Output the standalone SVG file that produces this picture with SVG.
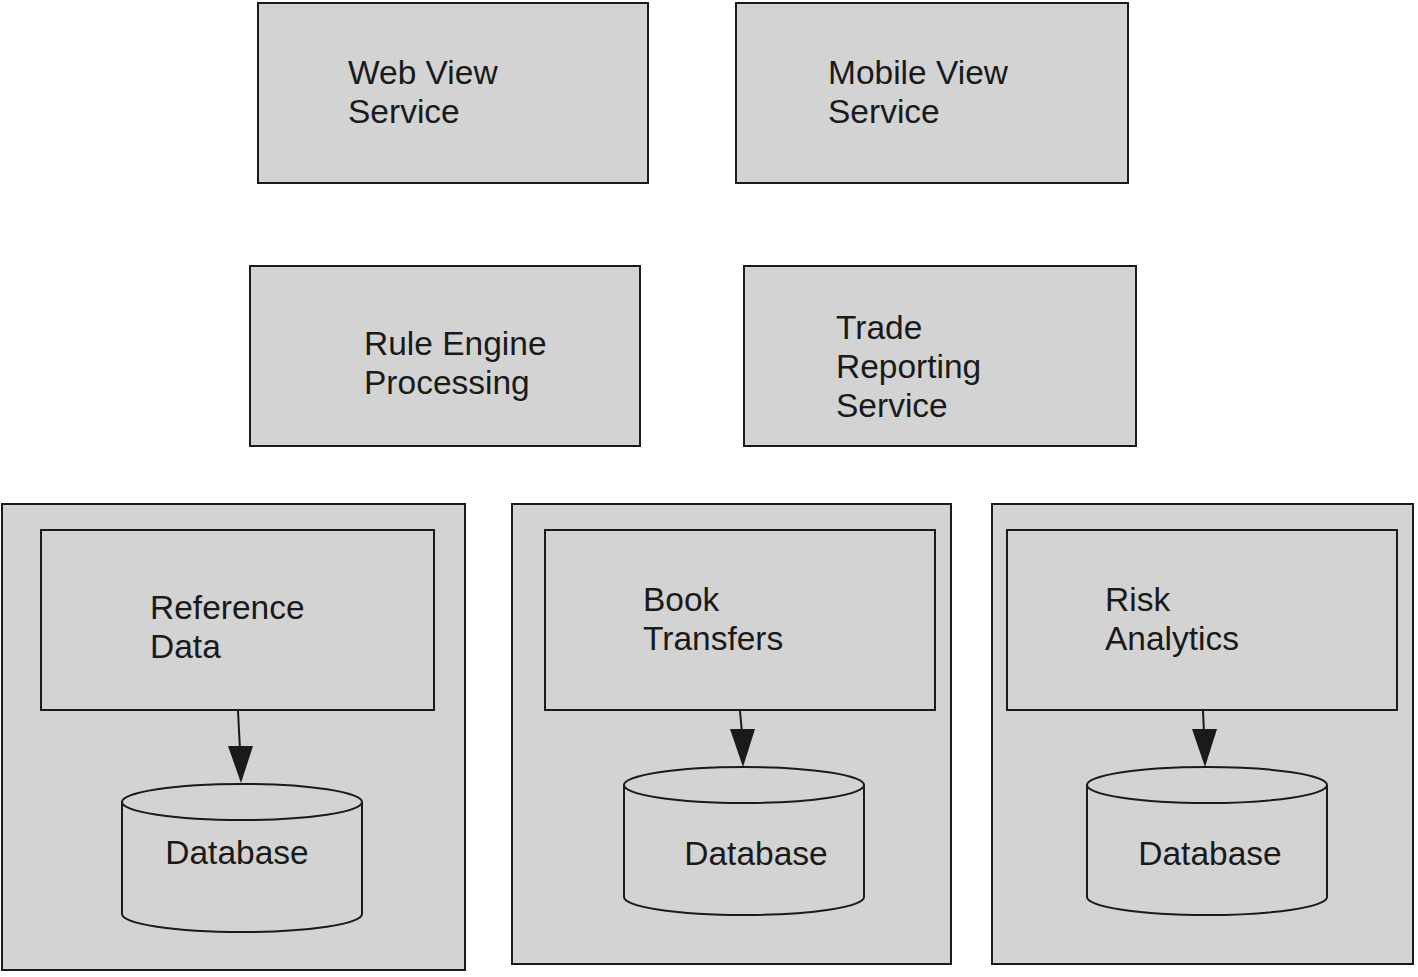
<svg xmlns="http://www.w3.org/2000/svg" width="1418" height="977" viewBox="0 0 1418 977">
<style>
.box{fill:#d3d3d3;stroke:#1a1a1a;stroke-width:2}
.cyl{fill:#d3d3d3;stroke:#1a1a1a;stroke-width:2}
.t{font-family:"Liberation Sans",Arial,sans-serif;font-size:33.5px;fill:#1a1a1a}
.edge{stroke:#1a1a1a;stroke-width:2;fill:none}
.head{fill:#1a1a1a}
</style>
<rect width="1418" height="977" fill="#ffffff"/>

<g id="web-view-service">
<rect class="box" x="258" y="3" width="390" height="180"/>
<text class="t" x="348" y="84">Web View</text>
<text class="t" x="348" y="123">Service</text>
</g>
<g id="mobile-view-service">
<rect class="box" x="736" y="3" width="392" height="180"/>
<text class="t" x="828" y="84">Mobile View</text>
<text class="t" x="828" y="123">Service</text>
</g>
<g id="rule-engine-processing">
<rect class="box" x="250" y="266" width="390" height="180"/>
<text class="t" x="364" y="355">Rule Engine</text>
<text class="t" x="364" y="394">Processing</text>
</g>
<g id="trade-reporting-service">
<rect class="box" x="744" y="266" width="392" height="180"/>
<text class="t" x="836" y="339">Trade</text>
<text class="t" x="836" y="378">Reporting</text>
<text class="t" x="836" y="417">Service</text>
</g>

<g id="reference-data-container">
<rect class="box" x="2" y="504" width="463" height="466"/>
</g>
<g id="book-transfers-container">
<rect class="box" x="512" y="504" width="439" height="460"/>
</g>
<g id="risk-analytics-container">
<rect class="box" x="992" y="504" width="421" height="460"/>
</g>

<g id="reference-data">
<rect class="box" x="41" y="530" width="393" height="180"/>
<text class="t" x="150" y="619">Reference</text>
<text class="t" x="150" y="658">Data</text>
</g>
<g id="book-transfers">
<rect class="box" x="545" y="530" width="390" height="180"/>
<text class="t" x="643" y="611">Book</text>
<text class="t" x="643" y="650">Transfers</text>
</g>
<g id="risk-analytics">
<rect class="box" x="1007" y="530" width="390" height="180"/>
<text class="t" x="1105" y="611">Risk</text>
<text class="t" x="1105" y="650">Analytics</text>
</g>

<g id="database-1">
<path class="cyl" d="M122,802 L122,914 A120,18 0 0 0 362,914 L362,802"/>
<ellipse class="cyl" cx="242" cy="802" rx="120" ry="18"/>
<text class="t" x="237" y="864" text-anchor="middle">Database</text>
</g>
<g id="database-2">
<path class="cyl" d="M624,785 L624,897 A120,18 0 0 0 864,897 L864,785"/>
<ellipse class="cyl" cx="744" cy="785" rx="120" ry="18"/>
<text class="t" x="756" y="865" text-anchor="middle">Database</text>
</g>
<g id="database-3">
<path class="cyl" d="M1087,785 L1087,897 A120,18 0 0 0 1327,897 L1327,785"/>
<ellipse class="cyl" cx="1207" cy="785" rx="120" ry="18"/>
<text class="t" x="1210" y="865" text-anchor="middle">Database</text>
</g>

<g id="connectors">
<path class="edge" d="M238,711 L240,750"/>
<path class="head" d="M228,746 L253,746 L241,783 Z"/>
<path class="edge" d="M740,711 L742,733"/>
<path class="head" d="M730,729 L755,729 L743,767 Z"/>
<path class="edge" d="M1203,711 L1204,733"/>
<path class="head" d="M1192,729 L1217,729 L1205,767 Z"/>
</g>
</svg>
